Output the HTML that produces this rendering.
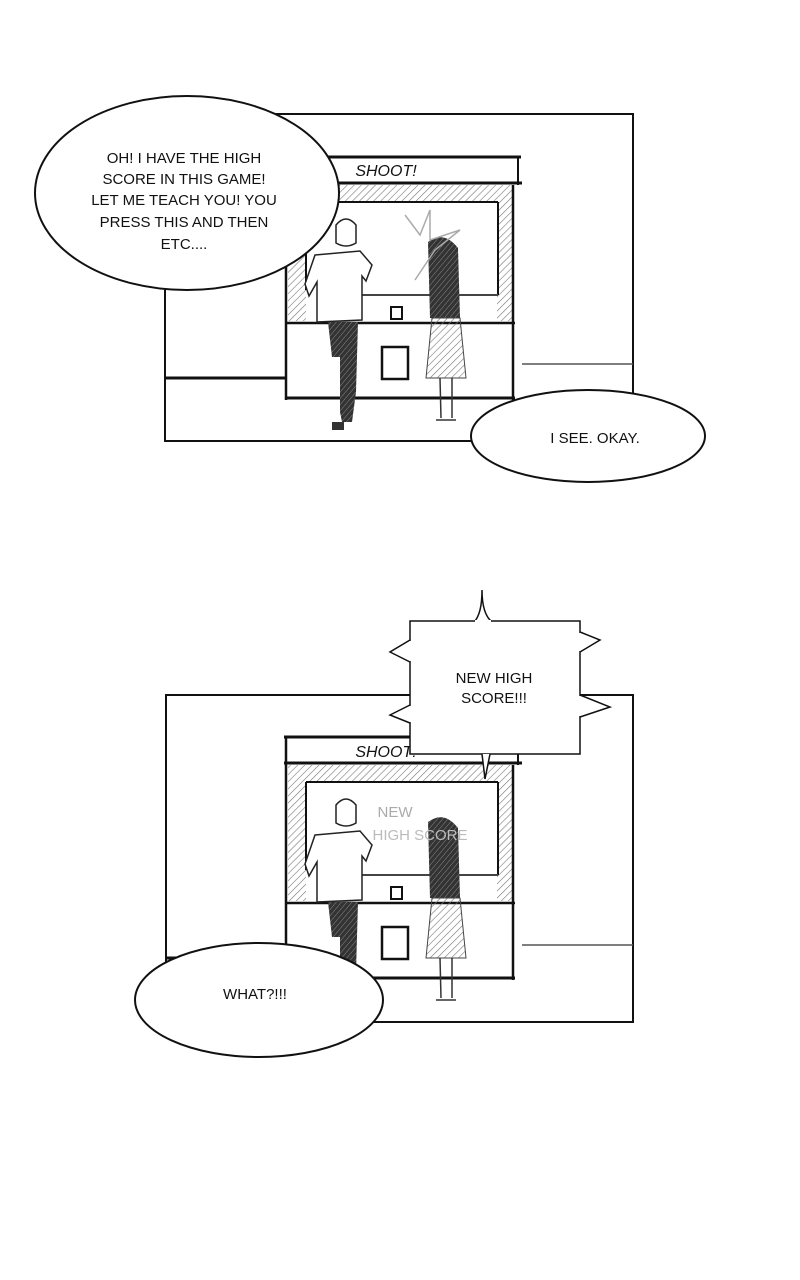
<!DOCTYPE html>
<html><head><meta charset="utf-8"><style>
html,body{margin:0;padding:0;background:#fff}
svg{display:block}
text{font-family:"Liberation Sans",sans-serif;font-size:15px;fill:#111;text-anchor:middle}
</style></head><body>
<svg width="800" height="1280" viewBox="0 0 800 1280" xmlns="http://www.w3.org/2000/svg">
<defs>
<pattern id="h" width="5" height="5" patternUnits="userSpaceOnUse" patternTransform="rotate(45)">
<line x1="0" y1="0" x2="0" y2="5" stroke="#777" stroke-width="1.2"/></pattern>
<pattern id="d" width="4" height="4" patternUnits="userSpaceOnUse" patternTransform="rotate(40)">
<rect width="4" height="4" fill="#333"/><line x1="0" y1="0" x2="0" y2="4" stroke="#888" stroke-width="1"/></pattern>
<g id="arcade">
<line x1="284" y1="7" x2="521" y2="7" stroke="#111" stroke-width="3"/>
<line x1="286" y1="7" x2="286" y2="250" stroke="#111" stroke-width="2.5"/>
<line x1="518" y1="7" x2="518" y2="35" stroke="#111" stroke-width="2"/>
<line x1="284" y1="33" x2="522" y2="33" stroke="#111" stroke-width="3"/>
<rect x="288" y="35" width="225" height="16" fill="url(#h)"/>
<rect x="288" y="51" width="18" height="120" fill="url(#h)"/>
<rect x="497" y="51" width="16" height="120" fill="url(#h)"/>
<line x1="306" y1="52" x2="498" y2="52" stroke="#111" stroke-width="2"/>
<line x1="306" y1="52" x2="306" y2="140" stroke="#111" stroke-width="2"/>
<line x1="498" y1="52" x2="498" y2="145" stroke="#111" stroke-width="2"/>
<line x1="513" y1="35" x2="513" y2="250" stroke="#111" stroke-width="2.5"/>
<line x1="320" y1="145" x2="498" y2="145" stroke="#444" stroke-width="2"/>
<line x1="286" y1="173" x2="515" y2="173" stroke="#111" stroke-width="2.5"/>
<line x1="286" y1="248" x2="515" y2="248" stroke="#111" stroke-width="3"/>
<rect x="382" y="197" width="26" height="32" fill="none" stroke="#111" stroke-width="2.5"/>
<rect x="391" y="157" width="11" height="12" fill="none" stroke="#111" stroke-width="2"/>
<!-- man -->
<path d="M336 75 q10-12 20 0 l0 18 q-10 6-20 0z" fill="none" stroke="#222" stroke-width="1.5"/>
<path d="M315 105 l45-4 12 14 -6 16 -4-5 0 44 -45 2 0-40 -8 14 -4-12z" fill="#fff" stroke="#222" stroke-width="1.5"/>
<path d="M328 172 l30 0 -2 70 -4 30 -10 0 -2-10 0-55 -8 0z" fill="url(#d)"/>
<path d="M332 272 l12 0 0 8 -12 0z" fill="#333"/>
<!-- woman -->
<path d="M428 92 q16-12 30 6 l2 70 -30 0z" fill="url(#d)"/>
<path d="M432 168 l28 0 6 60 -40 0z" fill="url(#h)" stroke="#444" stroke-width="1"/>
<line x1="440" y1="228" x2="441" y2="268" stroke="#333" stroke-width="1.5"/>
<line x1="452" y1="228" x2="452" y2="268" stroke="#333" stroke-width="1.5"/>
<path d="M436 270 h20" stroke="#333" stroke-width="1.5"/>
</g>
</defs>

<!-- Panel 1 -->
<rect x="165" y="114" width="468" height="327" fill="#fff" stroke="#111" stroke-width="2"/>
<line x1="165" y1="378" x2="286" y2="378" stroke="#111" stroke-width="3"/>
<line x1="522" y1="364" x2="633" y2="364" stroke="#555" stroke-width="1.5"/>
<use href="#arcade" transform="translate(0,150)"/>
<text x="386" y="176" style="font-size:16px;font-style:italic">SHOOT!</text>
<path d="M405 215 l15 20 10-25 0 30 30-10 -25 20 -20 30" fill="none" stroke="#aaa" stroke-width="1.5"/>
<ellipse cx="187" cy="193" rx="152" ry="97" fill="#fff" stroke="#111" stroke-width="2"/>
<text x="184" y="163">OH! I HAVE THE HIGH</text>
<text x="184" y="184">SCORE IN THIS GAME!</text>
<text x="184" y="205">LET ME TEACH YOU! YOU</text>
<text x="184" y="227">PRESS THIS AND THEN</text>
<text x="184" y="249">ETC....</text>
<ellipse cx="588" cy="436" rx="117" ry="46" fill="#fff" stroke="#111" stroke-width="2"/>
<text x="595" y="443">I SEE. OKAY.</text>

<!-- Panel 2 -->
<rect x="166" y="695" width="467" height="327" fill="#fff" stroke="#111" stroke-width="2"/>
<line x1="166" y1="958" x2="286" y2="958" stroke="#111" stroke-width="3"/>
<line x1="522" y1="945" x2="633" y2="945" stroke="#555" stroke-width="1.5"/>
<use href="#arcade" transform="translate(0,730)"/>
<text x="386" y="757" style="font-size:16px;font-style:italic">SHOOT!</text>
<text x="395" y="817" style="fill:#aaa;font-size:15px">NEW</text>
<text x="420" y="840" style="fill:#bbb;font-size:15px">HIGH SCORE</text>
<path d="M474 622 q8-8 8-32 q0 24 10 32" fill="#fff" stroke="#111" stroke-width="1.5"/>
<path d="M410 621 h170 v133 h-170z" fill="#fff" stroke="#111" stroke-width="1.5"/>
<path d="M580 632 l20 8 -20 12" fill="#fff" stroke="#111" stroke-width="1.5"/>
<path d="M580 695 l30 12 -30 10" fill="#fff" stroke="#111" stroke-width="1.5"/>
<path d="M410 640 l-20 12 20 10" fill="#fff" stroke="#111" stroke-width="1.5"/>
<path d="M410 705 l-20 10 20 8" fill="#fff" stroke="#111" stroke-width="1.5"/>
<path d="M482 754 l3 25 5-25" fill="#fff" stroke="#111" stroke-width="1.5"/>
<line x1="411" y1="641" x2="411" y2="661" stroke="#fff" stroke-width="2"/>
<line x1="411" y1="706" x2="411" y2="722" stroke="#fff" stroke-width="2"/>
<line x1="579" y1="633" x2="579" y2="651" stroke="#fff" stroke-width="2"/>
<line x1="579" y1="696" x2="579" y2="716" stroke="#fff" stroke-width="2"/>
<line x1="475" y1="621" x2="491" y2="621" stroke="#fff" stroke-width="2"/>
<text x="494" y="683">NEW HIGH</text>
<text x="494" y="703">SCORE!!!</text>
<ellipse cx="259" cy="1000" rx="124" ry="57" fill="#fff" stroke="#111" stroke-width="2"/>
<text x="255" y="999">WHAT?!!!</text>
</svg>
</body></html>
